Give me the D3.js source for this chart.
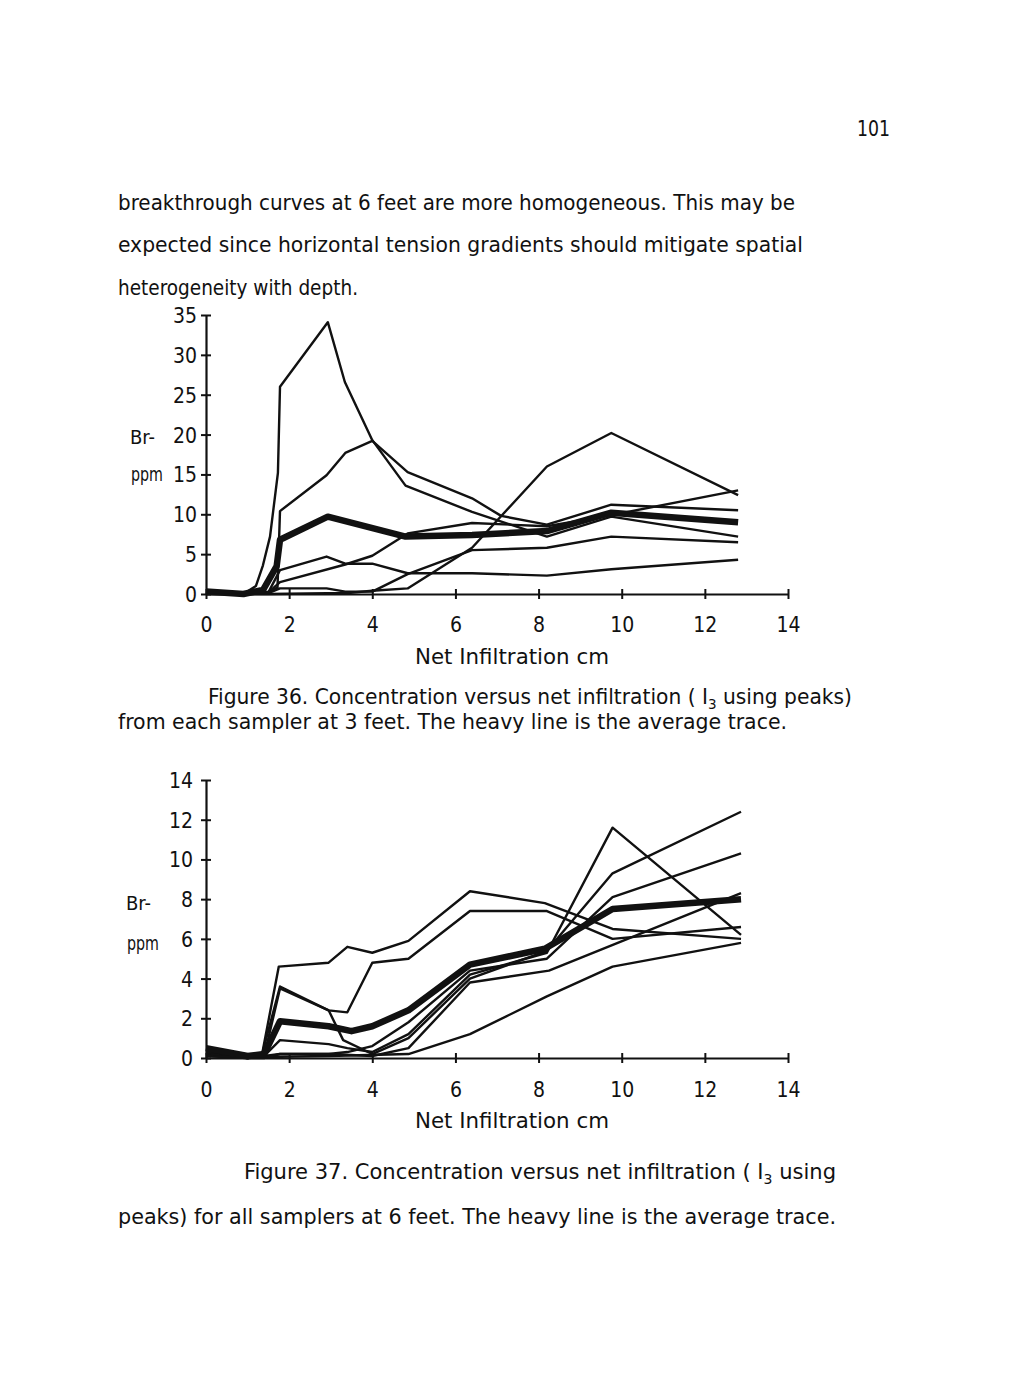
<!DOCTYPE html>
<html>
<head>
<meta charset="utf-8">
<script src="https://cdn.jsdelivr.net/npm/d3@7"></script>
<style>
  body { margin: 0; background: #fff; }
  text { font-family: "DejaVu Sans Condensed", "DejaVu Sans", sans-serif; fill: #111; }
</style>
</head>
<body>
<div id="page"></div>
<script>
// tick values
const xTicks = [0, 2, 4, 6, 8, 10, 12, 14];
const yTicks36 = [0, 5, 10, 15, 20, 25, 30, 35];
const yTicks37 = [0, 2, 4, 6, 8, 10, 12, 14];

// Figure 36, samplers at 3 feet: [net infiltration cm, Br- ppm]
const f36SamplerA = [[0,0.3],[0.9,0],[1.2,1.0],[1.37,3.6],[1.54,7.2],[1.73,15.2],[1.78,26],[2.93,34.1],[3.34,26.6],[4.0,19.3],[4.8,13.6],[6.4,10.3],[8.2,7.2],[9.75,9.7],[12.8,7.2]];
const f36SamplerB = [[0,0.2],[0.9,0],[1.5,0.3],[1.72,0.8],[1.78,10.4],[2.9,14.9],[3.35,17.7],[4.0,19.2],[4.85,15.3],[6.4,12.0],[7.1,9.8],[8.2,8.7],[9.75,11.2],[12.8,10.5]];
const f36SamplerC = [[0,0.2],[0.9,0],[1.5,0.2],[1.78,3.0],[2.9,4.7],[3.35,3.8],[4.0,3.8],[4.85,2.6],[6.4,2.6],[8.2,2.3],[9.75,3.1],[12.8,4.3]];
const f36SamplerD = [[0,0.1],[0.9,0],[1.5,0.2],[1.78,1.5],[3.35,3.7],[4.0,4.8],[4.85,7.6],[6.4,8.9],[8.2,8.5],[9.75,9.9],[12.8,13.0]];
const f36SamplerE = [[0,0.1],[0.9,0],[1.5,0.1],[1.78,0.7],[2.9,0.7],[3.35,0.3],[4.0,0.3],[4.85,2.5],[6.4,5.5],[8.2,5.8],[9.75,7.2],[12.8,6.5]];
const f36SamplerF = [[0,0],[1.5,0],[2.9,0.1],[3.35,0.1],[4.0,0.4],[4.85,0.7],[6.4,5.8],[8.2,16.0],[9.75,20.2],[12.8,12.4]];
const f36Average  = [[0,0.3],[0.9,0],[1.37,0.5],[1.7,3.5],[1.78,6.8],[2.93,9.7],[4.8,7.2],[6.4,7.4],[8.2,7.9],[9.75,10.2],[12.8,9.0]];

// Figure 37, samplers at 6 feet
const f37SamplerA = [[0,0.5],[1.0,0.1],[1.35,0.2],[1.75,4.6],[2.95,4.8],[3.4,5.6],[4.0,5.3],[4.87,5.9],[6.35,8.4],[8.15,7.8],[9.78,6.5],[12.87,6.0]];
const f37SamplerB = [[0,0.3],[1.0,0.05],[1.35,0.2],[1.78,3.6],[2.95,2.4],[3.4,2.3],[4.0,4.8],[4.87,5.0],[6.35,7.4],[8.2,7.4],[9.78,6.0],[12.87,6.6]];
const f37SamplerC = [[0,0.2],[1.0,0],[1.4,0.05],[2.95,0.1],[4.87,0.2],[6.35,1.2],[8.2,3.1],[9.78,4.6],[12.87,5.8]];
const f37SamplerD = [[0,0.3],[1.0,0],[1.4,0.1],[1.78,0.9],[2.95,0.7],[3.4,0.5],[4.0,0.3],[4.87,1.2],[6.35,4.2],[8.2,5.3],[9.78,11.6],[12.87,6.2]];
const f37SamplerE = [[0,0.2],[1.0,0],[1.4,0.1],[1.78,3.5],[2.95,2.4],[3.3,0.9],[4.0,0.2],[4.87,1.0],[6.35,4.0],[8.2,5.4],[9.78,9.3],[12.87,12.4]];
const f37SamplerF = [[0,0.1],[1.0,0],[1.4,0.1],[1.78,0.2],[2.95,0.2],[3.4,0.3],[4.0,0.6],[4.87,1.8],[6.35,4.4],[8.2,5.0],[9.78,8.1],[12.87,10.3]];
const f37SamplerG = [[0,0.1],[1.0,0],[1.4,0],[1.78,0.2],[2.95,0.2],[4.0,0.1],[4.87,0.5],[6.35,3.8],[8.25,4.4],[12.87,8.3]];
const f37Average  = [[0,0.5],[1.0,0.1],[1.4,0.2],[1.78,1.85],[2.95,1.6],[3.5,1.35],[4.0,1.6],[4.87,2.4],[6.35,4.7],[8.15,5.5],[9.78,7.5],[12.87,8.0]];

const width = 1025, height = 1380;

const svg = d3.select('#page')
    .append('svg')
    .attr('width', width)
    .attr('height', height);

svg.append('rect').attr('width', width).attr('height', height).attr('fill', '#fff');

function addText(str, x, y, size, opts = {}) {
    const t = svg.append('text')
        .attr('x', x)
        .attr('y', y)
        .attr('font-size', size)
        .attr('text-anchor', opts.anchor || 'start')
        .text(str);
    if (opts.len) t.attr('textLength', opts.len).attr('lengthAdjust', 'spacingAndGlyphs');
    return t;
}

// caption with subscript 3
function addCaption(before, after, x, y, len) {
    const t = svg.append('text')
        .attr('x', x)
        .attr('y', y)
        .attr('font-size', 21)
        .attr('textLength', len)
        .attr('lengthAdjust', 'spacingAndGlyphs');
    t.append('tspan').text(before);
    t.append('tspan').attr('font-size', 14).attr('dy', 5).text('3');
    t.append('tspan').attr('dy', -5).text(after);
}

// page text
addText('101', 857, 136, 21, { len: 33 });
addText('breakthrough curves at 6 feet are more homogeneous.  This may be', 118, 210, 22, { len: 677 });
addText('expected since horizontal tension gradients should mitigate spatial', 118, 252, 22, { len: 685 });
addText('heterogeneity with depth.', 118, 295, 22, { len: 240 });

function drawChart(cfg) {
    const x = d3.scaleLinear().domain([0, 14]).range([206, 788]);
    const y = d3.scaleLinear().domain([0, cfg.yMax]).range([cfg.y0, cfg.yTop]);

    const g = svg.append('g');

    const line = d3.line()
        .x(d => x(d[0]))
        .y(d => y(d[1]));

    g.selectAll('path.sampler')
        .data(cfg.samplers)
        .enter()
        .append('path')
        .attr('class', 'sampler')
        .attr('d', line)
        .attr('fill', 'none')
        .attr('stroke', '#111')
        .attr('stroke-width', 2.4)
        .attr('stroke-linejoin', 'round');

    g.append('path')
        .attr('d', line(cfg.average))
        .attr('fill', 'none')
        .attr('stroke', '#111')
        .attr('stroke-width', 6.5)
        .attr('stroke-linejoin', 'round');

    // x axis
    const xAxis = g.append('g')
        .attr('transform', `translate(0,${cfg.y0})`)
        .call(d3.axisBottom(x).tickValues(xTicks).tickSize(0).tickPadding(0).tickFormat(d3.format('d')));
    xAxis.select('.domain').attr('stroke', '#111').attr('stroke-width', 2.2);
    xAxis.selectAll('.tick line').attr('y1', -5).attr('y2', 5).attr('stroke', '#111').attr('stroke-width', 2);
    xAxis.selectAll('.tick text')
        .attr('y', cfg.xLabelY - cfg.y0)
        .attr('dy', 0)
        .attr('font-size', 21)
        .attr('font-family', '"DejaVu Sans Condensed", "DejaVu Sans", sans-serif')
        .attr('fill', '#111');

    // y axis
    const yAxis = g.append('g')
        .attr('transform', 'translate(206,0)')
        .call(d3.axisLeft(y).tickValues(cfg.yTicks).tickSize(0).tickPadding(0).tickFormat(d3.format('d')));
    yAxis.select('.domain').attr('stroke', '#111').attr('stroke-width', 2.2);
    yAxis.selectAll('.tick line').attr('x1', -5).attr('x2', 5).attr('stroke', '#111').attr('stroke-width', 2);
    yAxis.selectAll('.tick text')
        .attr('x', cfg.yLabelX)
        .attr('dy', '0.36em')
        .attr('font-size', 21)
        .attr('font-family', '"DejaVu Sans Condensed", "DejaVu Sans", sans-serif')
        .attr('fill', '#111');

    addText('Br-', cfg.brX, cfg.brY, 20);
    addText('ppm', cfg.brX + 1, cfg.ppmY, 20, { len: 32 });
    addText('Net Infiltration cm', 512, cfg.titleY, 21, { anchor: 'middle', len: 194 });
}

drawChart({
    yMax: 35, y0: 594, yTop: 315, yTicks: yTicks36, yLabelX: -9,
    samplers: [f36SamplerA, f36SamplerB, f36SamplerC, f36SamplerD, f36SamplerE, f36SamplerF],
    average: f36Average,
    xLabelY: 632, titleY: 664, brX: 130, brY: 444, ppmY: 481
});

addCaption('Figure 36.  Concentration versus net infiltration ( I', ' using peaks)', 208, 704, 644);
addText('from each sampler at 3 feet.  The heavy line is the average trace.', 118, 729, 21, { len: 669 });

drawChart({
    yMax: 14, y0: 1058, yTop: 780, yTicks: yTicks37, yLabelX: -13,
    samplers: [f37SamplerA, f37SamplerB, f37SamplerC, f37SamplerD, f37SamplerE, f37SamplerF, f37SamplerG],
    average: f37Average,
    xLabelY: 1097, titleY: 1128, brX: 126, brY: 910, ppmY: 950
});

addCaption('Figure 37.  Concentration versus net infiltration ( I', ' using', 244, 1179, 592);
addText('peaks) for all samplers at 6 feet.  The heavy line is the average trace.', 118, 1224, 21, { len: 718 });
</script>
</body>
</html>
